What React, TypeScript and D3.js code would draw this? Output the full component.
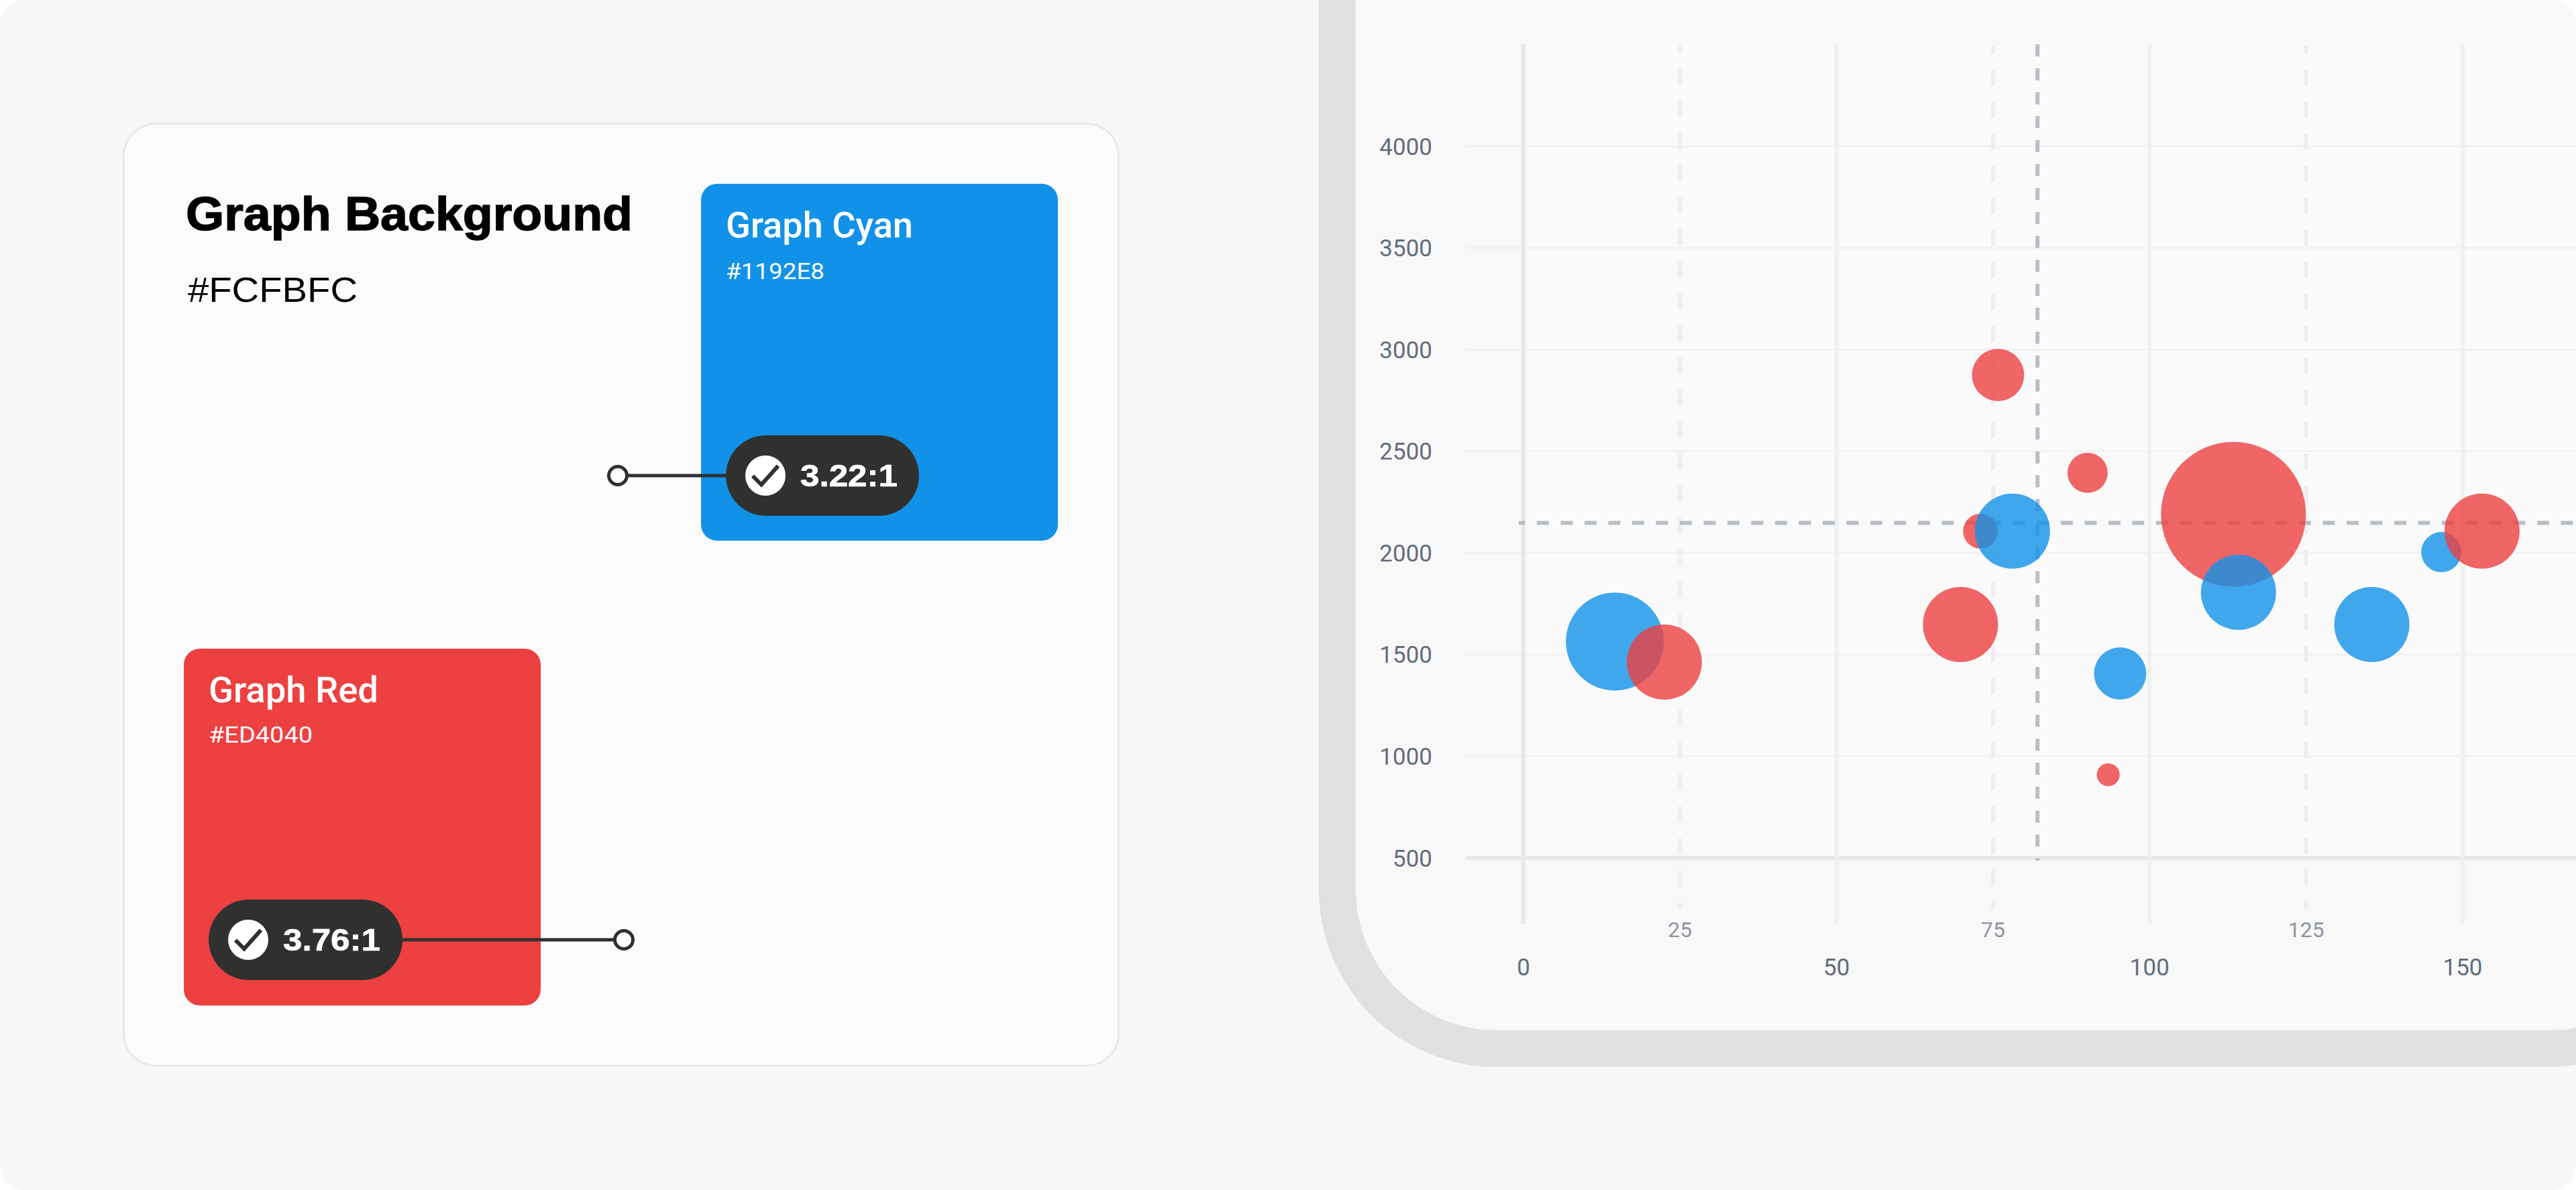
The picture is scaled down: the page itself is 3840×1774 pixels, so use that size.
import React, { useEffect } from "react";
import * as d3 from "d3";

const W = 3840;
const H = 1774;

const redPoints = [
  { x: 22.5, y: 1463, size: 26.9 },
  { x: 69.8, y: 1648, size: 26.9 },
  { x: 73.0, y: 2107, size: 5.8 },
  { x: 75.8, y: 2875, size: 13 },
  { x: 90.1, y: 2394, size: 7.7 },
  { x: 93.4, y: 909, size: 2.5 },
  { x: 113.4, y: 2190, size: 100 },
  { x: 153.1, y: 2107, size: 26.9 },
];
const blueBehindRed = [
  { x: 14.6, y: 1564, size: 45.7 },
  { x: 146.6, y: 2004, size: 7.7 },
];
const blueOverRed = [
  { x: 78.1, y: 2107, size: 26.9 },
  { x: 95.3, y: 1407, size: 13 },
  { x: 114.2, y: 1806, size: 26.9 },
  { x: 135.5, y: 1648, size: 26.9 },
];
const yTicks = [500, 1000, 1500, 2000, 2500, 3000, 3500, 4000];
const xMajorTicks = [0, 50, 100, 150];
const xMinorTicks = [25, 75, 125];
const refX = 82.1;
const refY = 2148;

const RED = "#ED4040";
const BLUE = "#1192E8";
const PILL = "#30312E";

const xScale = d3.scaleLinear().domain([0, 150]).range([2271, 3671]);
const yScale = d3.scaleLinear().domain([500, 4000]).range([1279, 218]);
const rScale = d3.scaleSqrt().domain([0, 100]).range([0, 108]);

const roboto = "Roboto, sans-serif";
const grotesk = "'Liberation Sans', Arial, sans-serif";

function Swatch({ x, y, size, fill, name, hex, nameWidth, hexWidth, hexDy }: any) {
  return (
    <g>
      <rect x={x} y={y} width={size} height={size} rx={24} fill={fill} />
      <text x={x + 37} y={y + 80} fontFamily={roboto} fontWeight={500} fontSize={54} fill="#fff" textLength={nameWidth} lengthAdjust="spacingAndGlyphs">{name}</text>
      <text x={x + 37} y={y + hexDy} fontFamily={roboto} fontWeight={400} fontSize={34} fill="#fff" textLength={hexWidth} lengthAdjust="spacingAndGlyphs">{hex}</text>
    </g>
  );
}

function Badge({ x, y, w, label, from, to }: any) {
  const cx = x + 59;
  const check = d3.line()([[cx - 19, y + 0.5], [cx - 6, y + 13.5], [cx + 19, y - 14.5]]) as string;
  return (
    <g>
      <line x1={from} x2={to} y1={y} y2={y} stroke={PILL} strokeWidth={5} />
      <circle cx={from} cy={y} r={13.5} fill="#FBFBFB" stroke={PILL} strokeWidth={5} />
      <rect x={x} y={y - 60} width={w} height={120} rx={60} fill={PILL} />
      <circle cx={cx} cy={y} r={30} fill="#fff" />
      <path d={check} fill="none" stroke={PILL} strokeWidth={6} />
      <text x={x + 111} y={y + 15.5} fontFamily={grotesk} fontWeight={700} fontSize={46} fill="#fff" stroke="#fff" strokeWidth={0.7} textLength={145} lengthAdjust="spacingAndGlyphs">{label}</text>
    </g>
  );
}

function Bubbles({ data, fill }: any) {
  return data.map((d: any, i: number) => (
    <circle key={i} cx={xScale(d.x)} cy={yScale(d.y)} r={rScale(d.size)} fill={fill} fillOpacity={0.8} />
  ));
}

export default function App() {
  useEffect(() => {
    document.body.style.margin = "0";
  }, []);
  return (
    <svg width={W} height={H} viewBox={`0 0 ${W} ${H}`} style={{ position: "fixed", left: 0, top: 0, display: "block" }}>
      <defs>
        <clipPath id="page">
          <rect width={W} height={H} rx={36} />
        </clipPath>
      </defs>
      <rect width={W} height={H} fill="#fff" />
      <g clipPath="url(#page)">
        <rect width={W} height={H} fill="#F7F7F7" />

        {/* left card */}
        <rect x={184.5} y={184.5} width={1483} height={1404} rx={48} fill="#FBFBFB" stroke="#E8E8E8" strokeWidth={3} />
        <text x={277} y={343} fontFamily={grotesk} fontWeight={700} fontSize={70} fill="#000" stroke="#000" strokeWidth={1.4} textLength={666} lengthAdjust="spacingAndGlyphs">Graph Background</text>
        <text x={280} y={450} fontFamily={grotesk} fontWeight={400} fontSize={52} fill="#000" textLength={253} lengthAdjust="spacingAndGlyphs">#FCFBFC</text>
        <Swatch x={1045} y={274} size={532} fill={BLUE} name="Graph Cyan" hex="#1192E8" nameWidth={279} hexWidth={147} hexDy={142} />
        <Swatch x={274} y={967} size={532} fill={RED} name="Graph Red" hex="#ED4040" nameWidth={253} hexWidth={155} hexDy={140} />
        <Badge x={1082} y={709} w={288} label="3.22:1" from={921} to={1100} />
        <Badge x={311} y={1401} w={289} label="3.76:1" from={930} to={590} />

        {/* chart frame */}
        <path d={`M1966 0 V1325 A265 265 0 0 0 2231 1590.5 H3800 A265 265 0 0 0 ${W} 1587.5 V0 Z`} fill="#E0E0E0" />
        <path d={`M2021 0 V1326 A210 210 0 0 0 2231 1536 H3800 A210 210 0 0 0 ${W} 1532.2 V0 Z`} fill="#F8F8F8" />
        <rect x={2271} y={66} width={W - 2271} height={1213} fill="#FAFAFB" />

        {/* grid */}
        {yTicks.slice(1).map((t) => (
          <line key={t} x1={2184} x2={W} y1={yScale(t)} y2={yScale(t)} stroke="#F0F0F1" strokeWidth={2.5} />
        ))}
        <line x1={2184} x2={W} y1={yScale(500)} y2={yScale(500)} stroke="#E6E6E7" strokeWidth={5.5} />
        {xMajorTicks.map((t) => (
          <line key={t} x1={xScale(t)} x2={xScale(t)} y1={66} y2={1377} stroke={t === 0 ? "#E8E8E9" : "#F0F0F1"} strokeWidth={6} />
        ))}
        {xMinorTicks.map((t) => (
          <line key={t} x1={xScale(t)} x2={xScale(t)} y1={68} y2={1355} stroke="#EEEEF0" strokeWidth={6} strokeDasharray="24 23.75" strokeDashoffset={12} />
        ))}

        {/* reference lines */}
        <line x1={xScale(refX)} x2={xScale(refX)} y1={66} y2={1283} stroke="#B8BEC6" strokeWidth={6} strokeDasharray="18 17.7" />
        <line x1={2264} x2={W} y1={yScale(refY)} y2={yScale(refY)} stroke="#B8BEC6" strokeWidth={6} strokeDasharray="18 17.5" strokeDashoffset={8.5} />

        {/* bubbles */}
        <Bubbles data={blueBehindRed} fill={BLUE} />
        <Bubbles data={redPoints} fill={RED} />
        <Bubbles data={blueOverRed} fill={BLUE} />

        {/* tick labels */}
        {yTicks.map((t) => (
          <text key={t} x={2135} y={yScale(t) + 12.5} textAnchor="end" fontFamily={roboto} fontWeight={400} fontSize={35} fill="#626C7C">{t}</text>
        ))}
        {xMajorTicks.map((t) => (
          <text key={t} x={xScale(t)} y={1454} textAnchor="middle" fontFamily={roboto} fontWeight={400} fontSize={35} fill="#626C7C">{t}</text>
        ))}
        {xMinorTicks.map((t) => (
          <text key={t} x={xScale(t)} y={1397} textAnchor="middle" fontFamily={roboto} fontSize={32} fill="#8E95A2">{t}</text>
        ))}
      </g>
    </svg>
  );
}
